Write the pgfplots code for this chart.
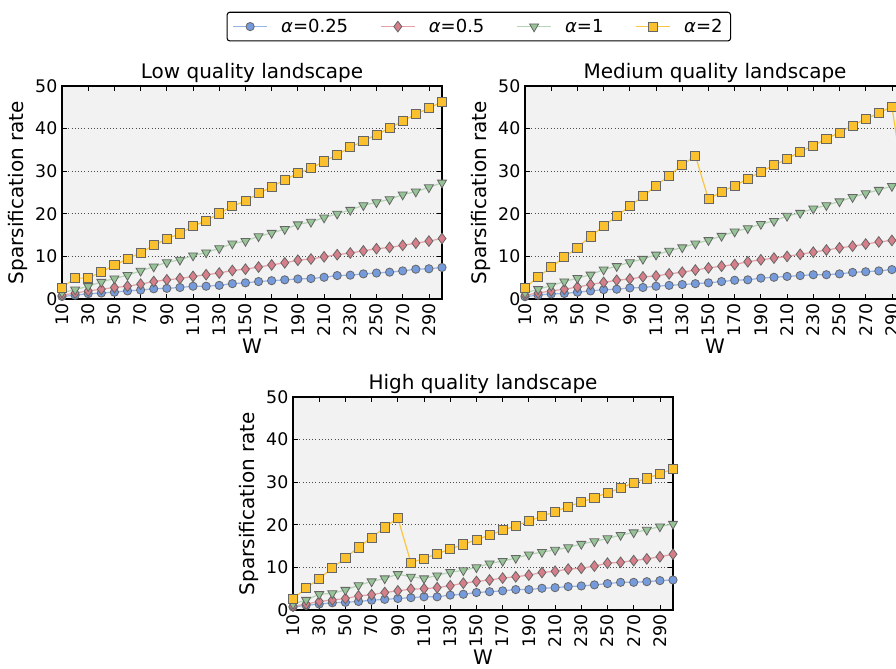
\documentclass[border=0pt]{standalone}
\usepackage{fontspec}
\setmainfont{DejaVu Sans}
\usepackage{pgfplots}
\usepackage{pgfplotstable}
\pgfplotsset{compat=1.18}

\definecolor{bfill}{RGB}{117,155,220}
\definecolor{bline}{RGB}{150,180,230}
\definecolor{rfill}{RGB}{214,126,137}
\definecolor{rline}{RGB}{230,160,168}
\definecolor{gfill}{RGB}{150,196,150}
\definecolor{gline}{RGB}{180,214,180}
\definecolor{yfill}{RGB}{251,192,45}
\definecolor{yline}{RGB}{250,198,64}
\definecolor{axbg}{RGB}{242,242,242}

\pgfplotstableread{
W a025 a05 a1 a2
10 0.6 0.9 1.5 2.7
20 0.9 1.4 2.2 4.9
30 1.25 1.9 3.0 4.9
40 1.4 2.3 4.0 6.4
50 1.6 2.7 4.8 7.9
60 1.9 3.0 5.6 9.4
70 2.1 3.5 6.6 10.9
80 2.4 4.1 7.6 12.6
90 2.5 4.5 8.6 14.1
100 2.7 4.8 9.2 15.4
110 3.0 5.3 10.2 17.1
120 3.0 5.7 10.9 18.4
130 3.2 6.1 11.9 20.1
140 3.6 6.7 13.0 21.8
150 3.8 7.0 13.6 23.0
160 4.1 7.5 14.7 24.8
170 4.3 8.0 15.5 26.3
180 4.5 8.5 16.4 28.0
190 4.7 9.1 17.5 29.5
200 4.8 9.4 18.1 30.7
210 5.1 9.9 19.1 32.3
220 5.5 10.4 20.0 33.9
230 5.6 10.8 20.9 35.6
240 5.9 11.3 22.0 37.1
250 6.1 11.8 22.7 38.6
260 6.3 12.1 23.4 40.1
270 6.6 12.6 24.5 41.8
280 7.0 13.1 25.2 43.4
290 7.1 13.6 26.2 44.8
300 7.4 14.2 27.3 46.3
}\lowtab

\pgfplotstableread{
W a025 a05 a1 a2
10 0.55 0.9 1.4 2.6
20 0.9 1.4 2.3 5.2
30 1.2 1.9 3.1 7.5
40 1.3 2.3 4.1 9.8
50 1.6 2.8 4.9 12.1
60 1.9 3.4 5.7 14.7
70 2.2 3.9 6.9 17.1
80 2.3 4.4 7.7 19.5
90 2.6 4.7 8.6 21.8
100 2.7 5.2 9.4 24.1
110 3.0 5.4 10.4 26.6
120 3.2 5.9 11.3 29.0
130 3.4 6.3 12.1 31.4
140 3.6 6.8 13.0 33.7
150 3.8 7.3 13.8 23.4
160 4.1 7.7 14.8 25.2
170 4.4 8.1 15.8 26.6
180 4.5 8.75 16.6 28.2
190 4.9 9.2 17.6 29.9
200 5.1 9.6 18.3 31.4
210 5.3 10.0 19.5 32.9
220 5.5 10.5 20.2 34.6
230 5.7 11.0 21.2 36.0
240 5.7 11.5 22.0 37.6
250 5.9 12.0 22.9 39.1
260 6.25 12.4 23.9 40.7
270 6.4 12.9 24.8 42.3
280 6.6 13.4 25.6 43.6
290 6.9 13.75 26.5 45.2
300 7.0 14.2 27.3 25.0
}\medtab

\pgfplotstableread{
W a025 a05 a1 a2
10 0.7 0.9 1.4 2.7
20 1.1 1.4 2.35 5.1
30 1.4 2.0 3.7 7.4
40 1.7 2.35 3.9 9.8
50 1.8 2.7 4.7 12.3
60 2.0 3.3 5.8 14.7
70 2.3 3.6 6.7 17.0
80 2.5 4.1 7.4 19.4
90 2.7 4.5 8.4 21.6
100 2.9 4.9 7.8 11.1
110 3.1 5.0 7.4 12.1
120 3.1 5.25 8.1 13.2
130 3.5 5.7 8.9 14.3
140 3.7 6.3 9.3 15.4
150 4.1 6.7 10.0 16.5
160 4.3 7.05 10.9 17.6
170 4.5 7.5 11.5 18.7
180 4.8 7.8 12.2 19.8
190 4.8 8.2 13.0 20.9
200 5.1 8.8 13.6 22.0
210 5.25 9.1 14.1 23.1
220 5.5 9.6 14.7 24.3
230 5.65 9.8 15.5 25.3
240 5.9 10.3 16.1 26.4
250 6.2 11.0 16.8 27.5
260 6.5 11.2 17.6 28.6
270 6.5 11.6 18.2 29.9
280 6.65 12.0 18.8 30.9
290 6.9 12.5 19.6 32.0
300 7.05 13.1 20.2 33.1
}\hightab

\pgfplotsset{
  sparse/.style={
    width=285pt, height=159.75pt, scale only axis,
    xmin=10, xmax=300, ymin=0, ymax=50,
    xtick={10,30,...,290}, ytick={0,10,...,50},
    tick pos=both, tick align=inside,
    major tick length=4pt,
    axis background/.style={fill=axbg},
    axis line style={black, line width=0.8pt},
    every tick/.style={black, line width=0.6pt},
    ymajorgrids, grid style={black!70, dotted, line width=0.6pt},
    /pgf/number format/assume math mode=true,
    tick label style={font=\fontsize{13}{15}\selectfont},
    xticklabel style={rotate=90, anchor=east},
    label style={font=\fontsize{15}{18}\selectfont},
    title style={font=\fontsize{15}{18}\selectfont, yshift=-7pt},
    xlabel={W}, ylabel={Sparsification rate},
    xlabel style={yshift=5pt},
    ylabel style={yshift=-1pt},
    clip=false,
  },
  sb/.style={color=bline, line width=0.9pt, mark=*, mark size=3.1pt,
    mark options={draw=black!60, fill=bfill, line width=0.6pt}},
  sr/.style={color=rline, line width=0.9pt, mark=diamond*, mark size=4pt,
    mark options={draw=black!60, fill=rfill, line width=0.6pt}},
  sg/.style={color=gline, line width=0.9pt, mark=triangle*, mark size=3.9pt,
    mark options={draw=black!60, fill=gfill, line width=0.6pt, rotate=180}},
  sy/.style={color=yline, line width=0.9pt, mark=square*, mark size=3.4pt,
    mark options={draw=black!60, fill=yfill, line width=0.6pt}},
}

\begin{document}
\begin{tikzpicture}
\path[use as bounding box] (0,0) rectangle (672pt,-501pt);
\clip (0,0) rectangle (672pt,-501pt);

\begin{axis}[sparse, at={(46.5pt,-224.25pt)}, anchor=south west,
  title={Low quality landscape},
  legend columns=4,
  legend style={at={(1.097,1.279)}, anchor=center, draw=black, line width=0.8pt,
    rounded corners=2pt, font=\fontsize{13.5}{16}\selectfont,
    /tikz/every odd column/.append style={column sep=8pt},
    /tikz/every even column/.append style={column sep=22pt},
    inner xsep=4pt, inner ysep=3pt},
  legend image code/.code={\draw[mark repeat=2, mark phase=2] plot coordinates {(0cm,0cm) (0.45cm,0cm) (0.9cm,0cm)};},
]
\addplot[sb] table[x=W, y=a025] {\lowtab};
\addlegendentry{{\itshape α}=0.25}
\addplot[sr] table[x=W, y=a05] {\lowtab};
\addlegendentry{{\itshape α}=0.5}
\addplot[sg] table[x=W, y=a1] {\lowtab};
\addlegendentry{{\itshape α}=1}
\addplot[sy] table[x=W, y=a2] {\lowtab};
\addlegendentry{{\itshape α}=2}
\end{axis}

\begin{axis}[sparse, at={(393.75pt,-224.25pt)}, anchor=south west,
  title={Medium quality landscape}]
\addplot[sb] table[x=W, y=a025] {\medtab};
\addplot[sr] table[x=W, y=a05] {\medtab};
\addplot[sg] table[x=W, y=a1] {\medtab};
\addplot[sy] table[x=W, y=a2] {\medtab};
\end{axis}

\begin{axis}[sparse, at={(219.75pt,-457.5pt)}, anchor=south west,
  title={High quality landscape}]
\addplot[sb] table[x=W, y=a025] {\hightab};
\addplot[sr] table[x=W, y=a05] {\hightab};
\addplot[sg] table[x=W, y=a1] {\hightab};
\addplot[sy] table[x=W, y=a2] {\hightab};
\end{axis}
\end{tikzpicture}
\end{document}
